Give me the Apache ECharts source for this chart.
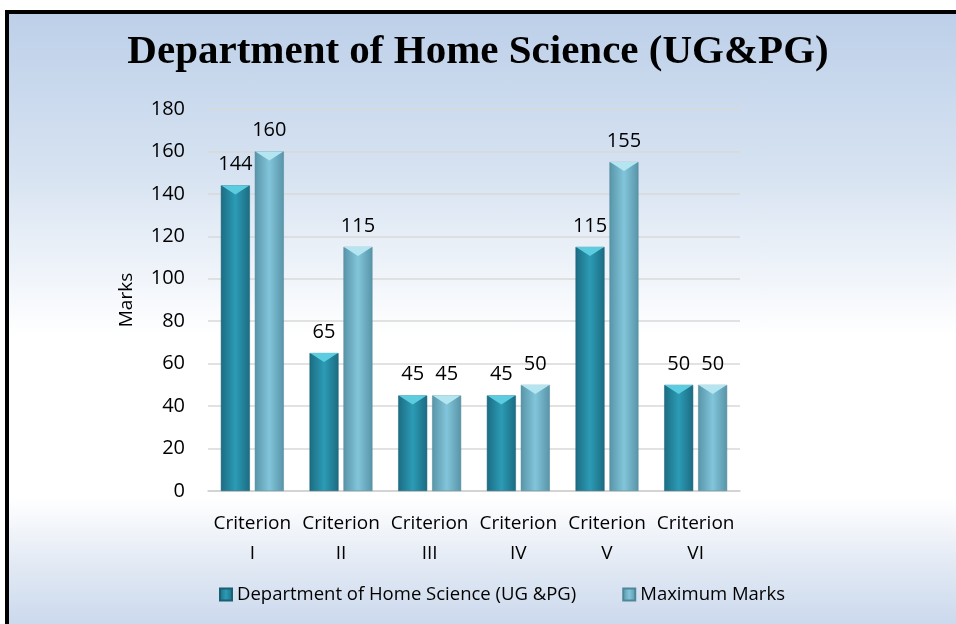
<!DOCTYPE html>
<html lang="en">
<head>
    <meta charset="UTF-8">
    <title>Department of Home Science</title>
    <style>
        html, body { margin: 0; padding: 0; width: 956px; height: 624px; overflow: hidden; background: #fff; }
        #frame {
            position: absolute; left: 5px; top: 10px; width: 960px; height: 620px;
            border-left: 4px solid #000; border-top: 4px solid #000;
            background: linear-gradient(to bottom, #bdd0e9 0%, #d6e2f1 25%, #ffffff 52%, #ffffff 78%, #dfe7f3 90%, #c8d7ec 100%);
        }
        #main { position: absolute; left: 0; top: 0; width: 956px; height: 624px; }
    </style>
</head>
<body>
<script src="https://cdn.jsdelivr.net/npm/echarts@6/dist/echarts.min.js"></script>
<div id="frame"></div>
<div id="main"></div>
<script type="text/javascript">
    var categories = ['Criterion\nI', 'Criterion\nII', 'Criterion\nIII', 'Criterion\nIV', 'Criterion\nV', 'Criterion\nVI'];
    var deptMarks = [144, 65, 45, 45, 115, 50];
    var maxMarks = [160, 115, 45, 50, 155, 50];
    var seriesNames = ['Department of Home Science (UG &PG)', 'Maximum Marks'];

    var myChart = echarts.init(document.getElementById('main'));
    var sans = 'Open Sans, sans-serif';

    function barGrad(edge, mid) {
        return new echarts.graphic.LinearGradient(0, 0, 1, 0, [
            { offset: 0, color: edge },
            { offset: 0.5, color: mid },
            { offset: 1, color: edge }
        ]);
    }

    var labelStyle = {
        show: true,
        position: 'top',
        distance: 11,
        color: '#000',
        fontSize: 20,
        fontFamily: sans
    };

    // top bevel of each bar (downward pointing wedge)
    function bevel(data, dx, color) {
        return {
            type: 'pictorialBar',
            data: data,
            symbol: 'path://M0,0 L29,0 L14.5,9 Z',
            symbolSize: [28, 9],
            symbolPosition: 'end',
            symbolOffset: [dx, 0],
            barGap: '-100%',
            itemStyle: { color: color },
            silent: true,
            z: 3
        };
    }

    var option = {
        title: {
            text: 'Department of Home Science (UG&PG)',
            left: 'center',
            top: 27,
            textStyle: { fontFamily: 'Liberation Serif', fontWeight: 'bold', fontSize: 41, color: '#000' }
        },
        legend: {
            left: 214,
            top: 580,
            icon: 'rect',
            itemWidth: 12,
            itemHeight: 12,
            itemGap: 46,
            textStyle: { fontFamily: sans, fontSize: 18.5, color: '#000' },
            data: seriesNames
        },
        grid: { left: 208, right: 216, top: 109, bottom: 133 },
        xAxis: {
            type: 'category',
            data: categories,
            axisTick: { show: false },
            axisLine: { lineStyle: { color: '#d0d0d0', width: 1.5 } },
            axisLabel: {
                interval: 0,
                margin: 18,
                formatter: function (v) {
                    var p = v.split('\n');
                    return '{a|' + p[0] + '}\n{a|' + p[1] + '}';
                },
                rich: {
                    a: { fontFamily: sans, fontSize: 19, color: '#000', lineHeight: 30 }
                }
            }
        },
        yAxis: {
            type: 'value',
            min: 0,
            max: 180,
            interval: 20,
            name: 'Marks',
            nameLocation: 'middle',
            nameGap: 72,
            nameTextStyle: { fontFamily: sans, fontSize: 19, color: '#000' },
            axisLine: { show: false },
            axisTick: { show: false },
            splitLine: { lineStyle: { color: '#d9d9d9', width: 1.5 } },
            axisLabel: { margin: 23, color: '#000', fontSize: 20, fontFamily: sans }
        },
        series: [
            {
                name: seriesNames[0],
                type: 'bar',
                data: deptMarks,
                barWidth: 29,
                barGap: '17%',
                itemStyle: { color: barGrad('#1b6c82', '#2c9bb5'), borderColor: '#1a5f72', borderWidth: 0.5 },
                label: labelStyle
            },
            {
                name: seriesNames[1],
                type: 'bar',
                data: maxMarks,
                barWidth: 29,
                itemStyle: { color: barGrad('#5894a8', '#82c5da'), borderColor: '#4f8799', borderWidth: 0.5 },
                label: labelStyle
            },
            bevel(deptMarks, -17, '#5ccde0'),
            bevel(maxMarks, 17, '#b4e6f2')
        ]
    };

    myChart.setOption(option);
</script>
</body>
</html>
